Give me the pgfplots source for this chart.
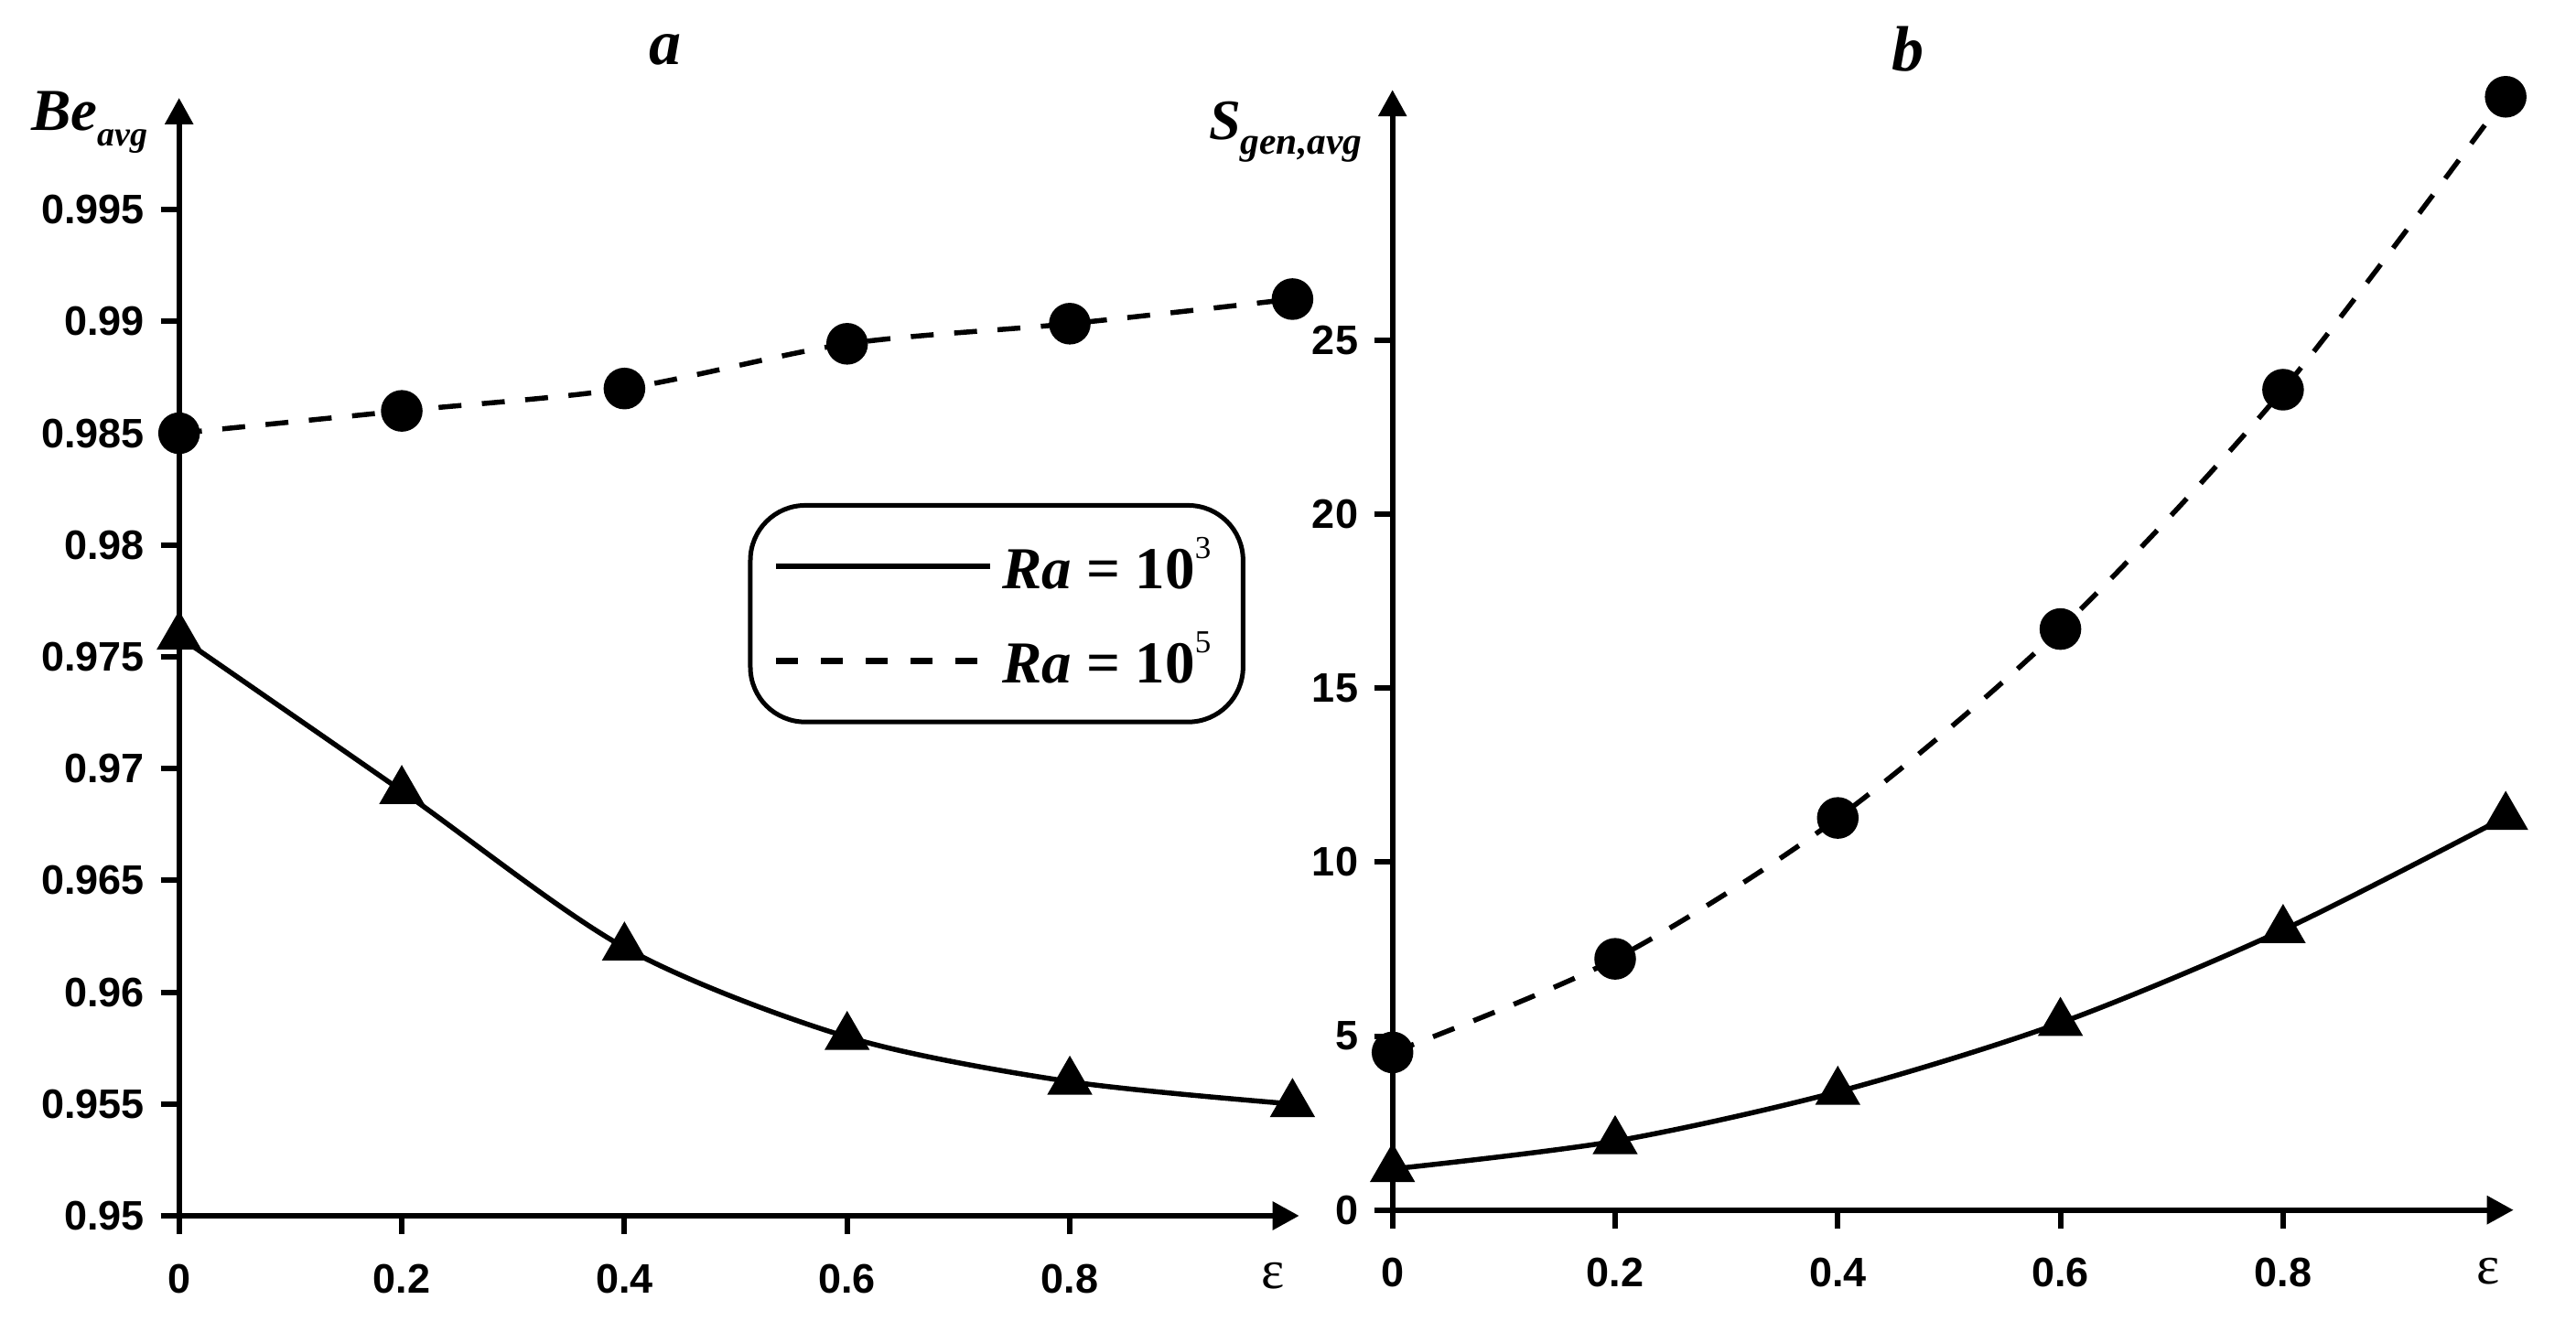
\documentclass[border=0pt]{standalone}
\usepackage{fontspec}
\setmainfont{Liberation Sans}
\newfontfamily\tnr{Liberation Serif}
\usepackage{pgfplots}
\pgfplotsset{compat=1.18}
\usetikzlibrary{arrows.meta}

\pgfplotsset{
  panel/.style={
    scale only axis,
    anchor=south west,
    axis lines=left,
    axis line style={line width=1.2pt, -{Triangle[length=5.8pt,width=6pt]}},
    tick align=outside,
    major tick length=4pt,
    tick style={line width=1.2pt, black},
    every tick label/.append style={font=\bfseries\fontsize{9}{10}\selectfont},
    xticklabel style={yshift=-3pt},
    /pgf/number format/assume math mode=true,
    xmin=0, xtick={0,0.2,0.4,0.6,0.8},
    clip=false,
  },
  ra3/.style={black, line width=1.1pt, smooth, mark=triangle*, mark size=4.6pt, mark options={solid}},
  ra5/.style={black, line width=1.1pt, smooth, dash pattern=on 5pt off 4.5pt, mark=*, mark size=4pt, mark options={solid}},
}

\begin{document}
\begin{tikzpicture}
\useasboundingbox (0,0) rectangle (563pt,288.8pt);

% a: Bejan number
\begin{axis}[panel,
  at={(39.14pt,23.0pt)}, width=244.8pt, height=244.4pt,
  xmax=1.006, ymin=0.95, ymax=1.0,
  ytick={0.95,0.955,0.96,0.965,0.97,0.975,0.98,0.985,0.99,0.995},
  yticklabel style={/pgf/number format/fixed, /pgf/number format/precision=3},
  legend style={at={(0.508,0.6375)}, anchor=north west, draw=black, line width=1pt,
    rounded corners=12pt, inner xsep=5pt, inner ysep=5pt, row sep=4pt,
    nodes={inner xsep=2pt},
    font=\tnr\bfseries\fontsize{13}{15}\selectfont, cells={anchor=west}},
  legend image code/.code={\draw[#1] (0pt,0pt) -- (46.8pt,0pt);},
]
\addplot[ra3, forget plot] coordinates {(0,0.9759) (0.2,0.969) (0.4,0.962) (0.6,0.958) (0.8,0.956) (1.0,0.955)};
\addplot[ra5, forget plot] coordinates {(0,0.985) (0.2,0.986) (0.4,0.987) (0.6,0.989) (0.8,0.9899) (1.0,0.991)};
\addlegendimage{black, line width=1.3pt}
\addlegendentry{\textit{Ra} = 10\raisebox{1.1ex}{\mdseries\fontsize{7}{7}\selectfont 3}}
\addlegendimage{black, line width=1.3pt, dash pattern=on 4.8pt off 5pt}
\addlegendentry{\textit{Ra} = 10\raisebox{1.1ex}{\mdseries\fontsize{7}{7}\selectfont 5}}
\end{axis}

% b: entropy generation
\begin{axis}[panel,
  at={(304.34pt,24.26pt)}, width=245pt, height=244.9pt,
  xmax=1.007, ymin=0, ymax=32.2,
  ytick={0,5,10,15,20,25},
]
\addplot[ra3] coordinates {(0,1.18) (0.2,1.98) (0.4,3.4) (0.6,5.38) (0.8,8.05) (1.0,11.3)};
\addplot[ra5] coordinates {(0,4.53) (0.2,7.22) (0.4,11.27) (0.6,16.7) (0.8,23.58) (1.0,32.0)};
\end{axis}

\node[inner sep=0pt, font=\tnr\bfseries\itshape\fontsize{14}{16}\selectfont] at (145.4pt,278pt) {a};
\node[inner sep=0pt, font=\tnr\bfseries\itshape\fontsize{14}{16}\selectfont] at (417pt,278pt) {b};
\node[inner sep=0pt, anchor=base west, font=\tnr\bfseries\itshape\fontsize{13}{15}\selectfont] at (6.6pt,260.2pt)
  {Be\raisebox{-3.4pt}{\fontsize{7.6}{8}\selectfont avg}};
\node[inner sep=0pt, anchor=base west, font=\tnr\bfseries\itshape\fontsize{12.5}{15}\selectfont] at (264pt,258.2pt)
  {S\raisebox{-3.2pt}{\fontsize{8.3}{9}\selectfont gen,avg}};
\node[inner sep=0pt, font=\tnr\fontsize{12}{12}\selectfont] at (278.2pt,9.8pt) {ε};
\node[inner sep=0pt, font=\tnr\fontsize{12}{12}\selectfont] at (543.8pt,10.8pt) {ε};
\end{tikzpicture}
\end{document}
